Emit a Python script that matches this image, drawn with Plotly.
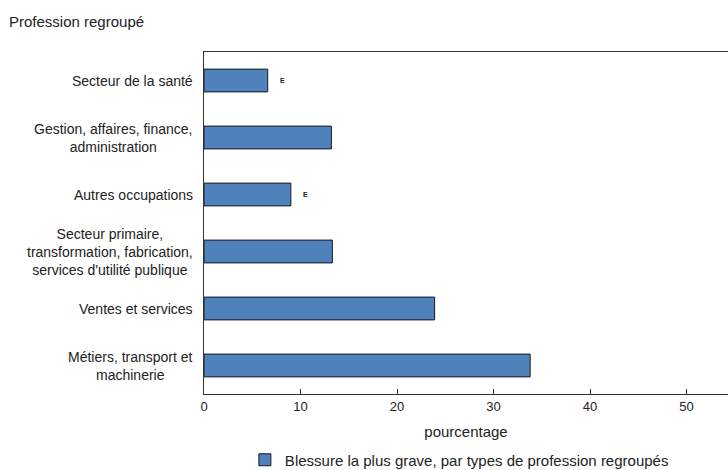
import plotly.graph_objects as go

categories = [
    "Secteur de la santé",
    "Gestion, affaires, finance,<br>administration",
    "Autres occupations",
    "Secteur primaire,<br>transformation, fabrication,<br>services d'utilité publique",
    "Ventes et services",
    "Métiers, transport et<br>machinerie",
]
values = [6.6, 13.2, 9.0, 13.3, 23.9, 33.8]
flags = ["E", "", "E", "", "", ""]
x_ticks = [0, 10, 20, 30, 40, 50]
series_name = "Blessure la plus grave, par types de profession regroupés"

FONT = "Liberation Sans, Arial, sans-serif"
TXT = "#222222"

fig = go.Figure()
fig.add_trace(go.Bar(
    y=categories, x=values, orientation="h",
    name=series_name,
    marker=dict(color="#4F81BD", line=dict(color="#1a1a1a", width=1)),
    width=0.4,
    showlegend=True,
))

annotations = []
for c in categories:
    annotations.append(dict(
        x=0, y=c, xref="x", yref="y", text=c, showarrow=False,
        xanchor="right", yanchor="middle", align="center", xshift=-9,
        font=dict(family=FONT, size=14, color=TXT),
    ))
for c, v, f in zip(categories, values, flags):
    if f:
        annotations.append(dict(
            x=v, y=c, xref="x", yref="y", text="<b>" + f + "</b>", showarrow=False,
            xanchor="left", yanchor="middle", xshift=10,
            font=dict(family=FONT, size=7, color=TXT),
        ))

fig.update_layout(
    width=728, height=470,
    margin=dict(l=204, r=0, t=52, b=76, autoexpand=False),
    paper_bgcolor="white", plot_bgcolor="white",
    font=dict(family=FONT, size=12, color=TXT),
    title=dict(text="Profession regroupé", x=9/728, xanchor="left",
               y=1-22/470, yanchor="middle",
               font=dict(family=FONT, size=15, color=TXT)),
    xaxis=dict(range=[0, 54.3], tickvals=x_ticks, ticks="inside", ticklen=5,
               tickcolor="#333", showline=True, linecolor="#333", linewidth=1,
               mirror=True, showgrid=False, zeroline=False, ticklabelstandoff=0,
               automargin=False,
               tickfont=dict(family=FONT, size=13, color=TXT),
               title=dict(text="pourcentage", standoff=13,
                          font=dict(family=FONT, size=15, color=TXT))),
    yaxis=dict(categoryorder="array", categoryarray=categories, autorange="reversed",
               showticklabels=False, ticks="", showline=True, linecolor="#333",
               linewidth=1, showgrid=False, zeroline=False, automargin=False),
    legend=dict(orientation="h", x=0.078, xanchor="left",
                yref="container", y=1-460/470, yanchor="middle",
                font=dict(family=FONT, size=15, color=TXT), bgcolor="rgba(0,0,0,0)"),
    annotations=annotations,
    bargap=0.6,
)

fig.write_html("out.html", config={"displayModeBar": False},
               post_script="document.body.style.margin='0';")
